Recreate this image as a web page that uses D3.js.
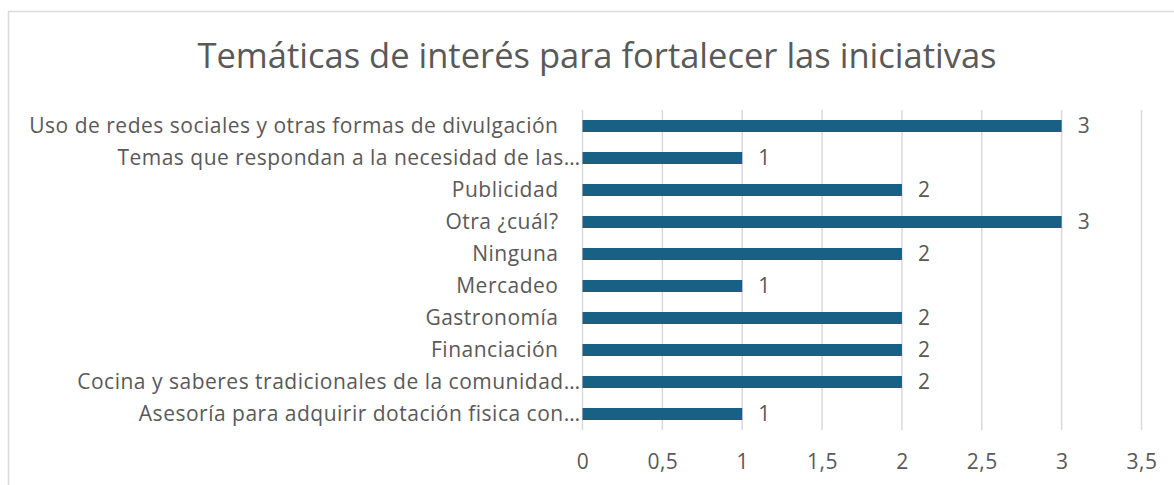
<!DOCTYPE html>
<html><head><meta charset="utf-8">
<script src="https://cdn.jsdelivr.net/npm/d3@7"></script>
<style>body{margin:0;background:#fff}</style>
</head><body>
<svg id="c" width="1174" height="485"></svg>
<script>
const categories = [
  "Uso de redes sociales y otras formas de divulgación",
  "Temas que respondan a la necesidad de las…",
  "Publicidad",
  "Otra ¿cuál?",
  "Ninguna",
  "Mercadeo",
  "Gastronomía",
  "Financiación",
  "Cocina y saberes tradicionales de la comunidad…",
  "Asesoría para adquirir dotación fisica con…"
];
const values = [3, 1, 2, 3, 2, 1, 2, 2, 2, 1];
const tickValues = [0, 0.5, 1, 1.5, 2, 2.5, 3, 3.5];
const title = "Temáticas de interés para fortalecer las iniciativas";

const FONT = "Open Sans, sans-serif";
const svg = d3.select("#c");
svg.append("rect").attr("x",8.5).attr("y",11.5).attr("width",1300).attr("height",600)
  .attr("fill","#fff").attr("stroke","#d9d9d9").attr("stroke-width",1.5);

const x = d3.scaleLinear().domain([0,3.5]).range([582.5,1141.5]);
const y = d3.scaleBand().domain(categories).range([110,430]).paddingInner(0.625).paddingOuter(0.3125);

svg.append("text").attr("x",597).attr("y",68).attr("text-anchor","middle")
  .attr("font-family",FONT).attr("font-size",34.5).attr("fill","#595959").text(title);

const xAxis = d3.axisBottom(x).tickValues(tickValues).tickSize(0)
  .tickFormat(d => String(d).replace(".", ","));
const gx = svg.append("g").attr("transform","translate(0,430)").call(xAxis);
gx.select(".domain").remove();
gx.selectAll("text").attr("font-family",FONT).attr("font-size",21).attr("fill","#595959")
  .attr("letter-spacing",0.5).attr("dy",0).attr("y",39);

svg.append("g").selectAll("line").data(tickValues).join("line")
  .attr("x1",d=>x(d)).attr("x2",d=>x(d)).attr("y1",110).attr("y2",430)
  .attr("stroke","#d9d9d9").attr("stroke-width",1.5);

svg.append("g").selectAll("rect").data(values).join("rect")
  .attr("x",x(0)).attr("y",(d,i)=>y(categories[i]))
  .attr("width",d=>x(d)-x(0)).attr("height",y.bandwidth()).attr("fill","#186184");

const yAxis = d3.axisLeft(y).tickSize(0);
const gy = svg.append("g").attr("transform",`translate(${x(0)},0)`).call(yAxis);
gy.select(".domain").remove();
gy.selectAll("text").attr("font-family",FONT).attr("font-size",21).attr("fill","#595959")
  .attr("letter-spacing",0.5)
  .attr("x", d => d.endsWith("…") ? -2 : -24);

svg.append("g").selectAll("text").data(values).join("text")
  .attr("x",d=>x(d)+16).attr("y",(d,i)=>y(categories[i])+y.bandwidth()/2)
  .attr("dy","0.35em").attr("font-family",FONT).attr("font-size",21).attr("fill","#595959")
  .text(d=>d);
</script>
</body></html>
